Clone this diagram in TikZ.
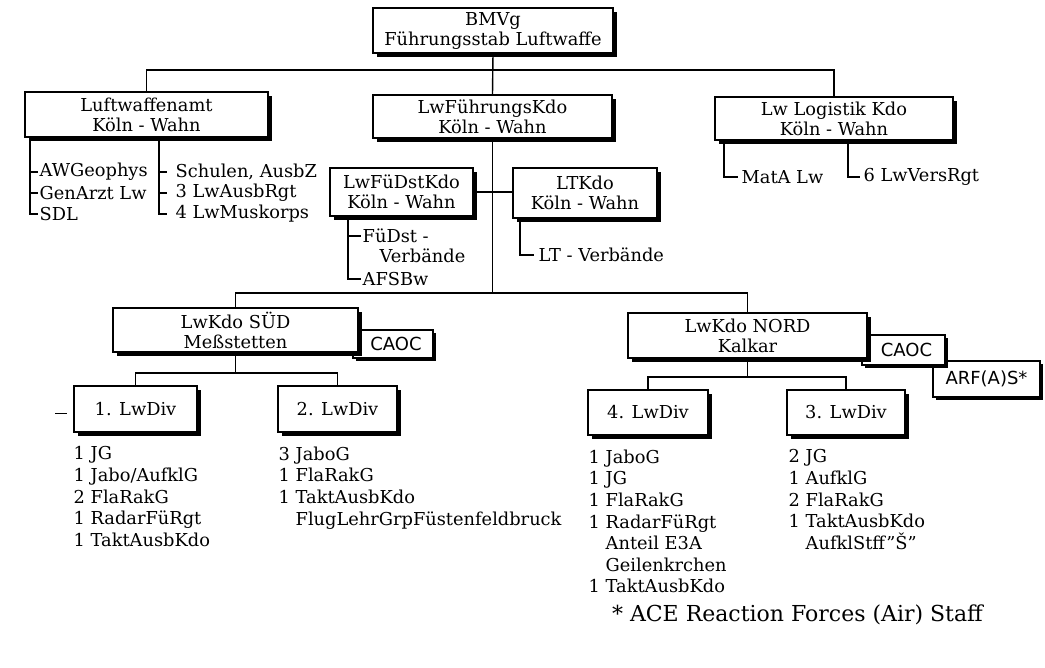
\documentclass[tikz,border=0pt]{standalone}
\usepackage{fontspec}
\setmainfont{DejaVu Serif}
\setsansfont{DejaVu Sans}
\usetikzlibrary{shadows}
\begin{document}
\begin{tikzpicture}[x=1pt, y=-1pt, line width=1.4pt,
  every node/.style={font=\fontsize{17.8}{20}\selectfont},
  plain/.style={draw, fill=white, align=center, inner sep=0pt},
  box/.style={plain, drop shadow={shadow xshift=4pt, shadow yshift=-4pt, opacity=1, fill=black}},
  tag/.style={plain, font=\sffamily\fontsize{18}{20}\selectfont, drop shadow={shadow xshift=3pt, shadow yshift=-3pt, opacity=1, fill=black}},
  item/.style={anchor=west, inner sep=1pt},
  list/.style={anchor=north west, align=left, inner sep=0pt, font=\fontsize{17.8}{21.6}\selectfont}]
\useasboundingbox (0,0) rectangle (1045,668);

\node[box, minimum width=240pt, minimum height=45pt] (bmvg) at (493,30.5) {BMVg\\Führungsstab Luftwaffe};
\node[box, minimum width=243pt, minimum height=45pt] (lwa) at (146.5,114.5) {Luftwaffenamt\\Köln - Wahn};
\node[box, minimum width=239pt, minimum height=43pt] (lwfk) at (492.5,116.5) {LwFührungsKdo\\Köln - Wahn};
\node[box, minimum width=238pt, minimum height=43pt] (lwl) at (834,118.5) {Lw Logistik Kdo\\Köln - Wahn};
\node[box, minimum width=143pt, minimum height=48pt] (lwfd) at (401.5,192) {LwFüDstKdo\\Köln - Wahn};
\node[box, minimum width=144pt, minimum height=50pt] (ltk) at (585,193) {LTKdo\\Köln - Wahn};

\node[tag, minimum width=80pt, minimum height=28pt] (caoc1) at (393,344) {\hspace*{6pt}CAOC};
\node[box, minimum width=245pt, minimum height=44pt] (sued) at (235.5,330) {LwKdo SÜD\\Meßstetten};
\node[tag, minimum width=107pt, minimum height=36pt] (arf) at (986.5,379) {ARF(A)S*};
\node[tag, minimum width=83pt, minimum height=30pt] (caoc2) at (903.5,350) {\hspace*{6pt}CAOC};
\node[box, minimum width=239pt, minimum height=45pt] (nord) at (747.5,335.5) {LwKdo NORD\\Kalkar};

\node[box, minimum width=123pt, minimum height=46pt] (div1) at (135.5,409) {1. LwDiv};
\node[box, minimum width=119pt, minimum height=46pt] (div2) at (337.5,409) {2. LwDiv};
\node[box, minimum width=120pt, minimum height=45pt] (div4) at (648,412.5) {4. LwDiv};
\node[box, minimum width=118pt, minimum height=45pt] (div3) at (846,412.5) {3. LwDiv};

\coordinate (bus1) at (0,70);
\coordinate (bus2) at (0,293);
\coordinate (bus3) at (0,373);
\coordinate (bus4) at (0,377);

\draw (bmvg.south) -- (lwfk.north);
\draw (lwa.north) |- (bmvg.south |- bus1) -| (lwl.north);
\draw (lwfk.south) -- (lwfk.south |- bus2);
\draw (sued.north) |- (lwfk.south |- bus2) -| (nord.north);
\draw (lwfd.east) -- (lwfd.east -| ltk.west);
\draw (sued.south) -- (sued.south |- bus3);
\draw (div1.north) |- (sued.south |- bus3) -| (div2.north);
\draw (nord.south) -- (nord.south |- bus4);
\draw (div4.north) |- (nord.south |- bus4) -| (div3.north);

\coordinate (lwaA) at (30,137);
\coordinate (lwaB) at (159,137);
\node[item] (awg) at (38,172) {AWGeophys};
\node[item] (gen) at (38,193) {GenArzt Lw};
\node[item] (sdl) at (38,214) {SDL};
\draw (lwaA) |- (sdl.west);
\draw (lwaA |- awg.west) -- (awg.west);
\draw (lwaA |- gen.west) -- (gen.west);
\node[item, inner xsep=8pt] (sch) at (167,172) {Schulen, AusbZ};
\node[item, inner xsep=8pt] (ausb) at (167,193) {3 LwAusbRgt};
\node[item, inner xsep=8pt] (mus) at (167,214) {4 LwMuskorps};
\draw (lwaB) |- (mus.west);
\draw (lwaB |- sch.west) -- (sch.west);
\draw (lwaB |- ausb.west) -- (ausb.west);

\coordinate (lwlA) at (724,140);
\coordinate (lwlB) at (848,140);
\node[item, inner xsep=3pt] (mata) at (738,177) {MatA Lw};
\node[item, inner xsep=3pt] (vers) at (860,177) {6 LwVersRgt};
\draw (lwlA) |- (mata.west);
\draw (lwlB) |- (vers.west);

\coordinate (lwfdA) at (348,216);
\node[item] (fds) at (361,236) {FüDst -};
\node[item] (fdv) at (378,256) {Verbände};
\node[item] (afs) at (361,279) {AFSBw};
\draw (lwfdA) |- (afs.west);
\draw (lwfdA |- fds.west) -- (fds.west);

\coordinate (ltkA) at (520,218);
\node[item, inner xsep=4pt] (ltv) at (534,255) {LT - Verbände};
\draw (ltkA) |- (ltv.west);

\node[list] (l1) at (73,446) {1 JG\\1 Jabo/AufklG\\2 FlaRakG\\1 RadarFüRgt\\1 TaktAusbKdo};
\node[list] (l2) at (278,446) {3 JaboG\\1 FlaRakG\\1 TaktAusbKdo\\\phantom{1 }FlugLehrGrpFüstenfeldbruck};
\node[list] (l4) at (588,449) {1 JaboG\\1 JG\\1 FlaRakG\\1 RadarFüRgt\\\phantom{1 }Anteil E3A\\\phantom{1 }Geilenkrchen\\1 TaktAusbKdo};
\node[list] (l3) at (788,449) {2 JG\\1 AufklG\\2 FlaRakG\\1 TaktAusbKdo\\\phantom{1 }AufklStff"Š"};

\coordinate (mark) at (55,413);
\draw[line width=0.8pt] (mark) -- ++(12,0);

\node[anchor=west, font=\fontsize{22}{24}\selectfont] (note) at (608,615) {* ACE Reaction Forces (Air) Staff};
\end{tikzpicture}
\end{document}
